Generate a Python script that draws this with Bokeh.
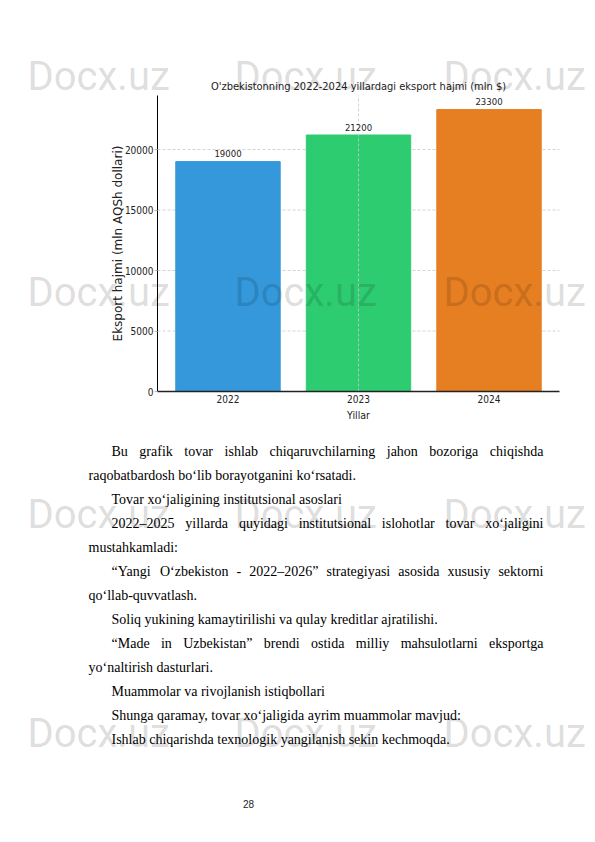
from bokeh.plotting import figure
from bokeh.models import Range1d, FixedTicker, LinearAxis, ColumnDataSource
from bokeh.embed import file_html
from bokeh.resources import INLINE
from bokeh.core.properties import value

# ---------------- data ----------------
years = [2022, 2023, 2024]
year_labels = ["2022", "2023", "2024"]
exports = [19000, 21200, 23300]
export_labels = ["19000", "21200", "23300"]
bar_colors = ["#3498db", "#2ecc71", "#e67e22"]
y_ticks = [0, 5000, 10000, 15000, 20000]
chart_title = "O'zbekistonning 2022-2024 yillardagi eksport hajmi (mln $)"
x_title = "Yillar"
y_title = "Eksport hajmi (mln AQSh dollari)"

body_lines = [
    "Bu grafik tovar ishlab chiqaruvchilarning jahon bozoriga chiqishda",
    "raqobatbardosh bo\u2018lib borayotganini ko\u2018rsatadi.",
    "Tovar xo\u2018jaligining institutsional asoslari",
    "2022\u20132025 yillarda quyidagi institutsional islohotlar tovar xo\u2018jaligini",
    "mustahkamladi:",
    "\u201cYangi O\u2018zbekiston - 2022\u20132026\u201d strategiyasi asosida xususiy sektorni",
    "qo\u2018llab-quvvatlash.",
    "Soliq yukining kamaytirilishi va qulay kreditlar ajratilishi.",
    "\u201cMade in Uzbekistan\u201d brendi ostida milliy mahsulotlarni eksportga",
    "yo\u2018naltirish dasturlari.",
    "Muammolar va rivojlanish istiqbollari",
    "Shunga qaramay, tovar xo\u2018jaligida ayrim muammolar mavjud:",
    "Ishlab chiqarishda texnologik yangilanish sekin kechmoqda.",
]
line_indented = [True, False, True, True, False, True, False, True, True, False, True, True, True]
line_justified = [True, False, False, True, False, True, False, False, True, False, False, False, False]
page_number = "28"
watermark = "Docx.uz"

# ---------------- page and chart-area geometry ----------------
W, H = 595, 842
FL, FR, FT, FB = 157, 559, 95, 391        # chart plot area on the page (px)
X_LO, X_HI = 2021.46, 2024.54             # chart x range (years)
Y_LO, Y_HI = 0, 24465                     # chart y range (mln $)

ppx = (FR - FL) / (X_HI - X_LO)
vpp = (Y_HI - Y_LO) / (FB - FT)

p = figure(width=W, height=H, x_range=Range1d(0, W), y_range=Range1d(H, 0),
           x_axis_type=None, y_axis_type=None, min_border=0, title=None,
           output_backend="svg", toolbar_location=None)
p.outline_line_color = None
p.background_fill_color = "white"
p.border_fill_color = "white"

# chart scales mapped onto the chart area of the page
p.extra_x_ranges = {"yr": Range1d(X_LO - FL / ppx, X_HI + (W - FR) / ppx)}
p.extra_y_ranges = {"val": Range1d(Y_LO - (H - FB) * vpp, Y_HI + FT * vpp)}
C = dict(x_range_name="yr", y_range_name="val")

# horizontal grid (behind the bars)
gy = [v for v in y_ticks if v > 0]
p.segment(x0=[X_LO] * len(gy), x1=[X_HI] * len(gy), y0=gy, y1=gy, line_color="#c8c8c8",
          line_dash="3 2", line_width=0.8, **C)

src = ColumnDataSource(dict(x=years, top=exports, color=bar_colors, lab=export_labels))
p.vbar(x="x", top="top", width=0.8, color="color", source=src, **C)

# vertical dashed line at the middle year (drawn over the bar)
p.segment(x0=[years[1]], x1=[years[1]], y0=[Y_LO], y1=[Y_HI], line_color="#c8c8c8",
          line_dash="3 2", line_width=0.8, **C)

cond = value("DejaVu Sans Condensed")
p.text(x="x", y="top", text="lab", source=src, y_offset=-8, text_align="center",
       text_baseline="alphabetic", text_font=cond, text_font_size="9.5px", text_color="#222222", **C)

# title
p.text(x=[(X_LO + X_HI) / 2], y=[Y_HI], text=[chart_title], y_offset=-9, text_align="center",
       text_baseline="alphabetic", text_font=cond, text_font_size="11px", text_color="#222222", **C)

# axes
xax = LinearAxis(fixed_location=Y_LO, bounds=(X_LO, X_HI), ticker=FixedTicker(ticks=years), **C)
xax.major_label_overrides = dict(zip(years, year_labels))
yax = LinearAxis(fixed_location=X_LO, bounds=(Y_LO, Y_HI), ticker=FixedTicker(ticks=y_ticks), **C)
for ax in (xax, yax):
    ax.minor_tick_line_color = None
    ax.major_label_text_font = "DejaVu Sans Condensed"
    ax.major_label_text_font_size = "10px"
    ax.major_label_text_color = "#222222"
    ax.axis_label_text_font_style = "normal"
    ax.axis_label_text_color = "#222222"

xax.axis_label = x_title
xax.axis_label_text_font = "DejaVu Sans Condensed"
xax.axis_label_text_font_size = "10.5px"
xax.axis_label_standoff = 3
xax.axis_line_color = "#222222"
xax.axis_line_width = 1.6
xax.major_tick_line_color = None
xax.major_tick_out = 0
xax.major_tick_in = 0
xax.major_label_standoff = 3

yax.axis_label = y_title
yax.axis_label_text_font = "DejaVu Sans"
yax.axis_label_text_font_size = "12px"
yax.axis_label_standoff = -3
yax.axis_line_color = "black"
yax.axis_line_width = 1
yax.major_tick_out = 3
yax.major_tick_in = 0
yax.major_tick_line_color = "#bbbbbb"
yax.major_label_standoff = 1

p.add_layout(xax, "below")
p.add_layout(yax, "left")

# ---------------- body text (justified like the page) ----------------
CW = {' ': 250, 'a': 444, 'b': 500, 'c': 444, 'd': 500, 'e': 444, 'f': 333, 'g': 500, 'h': 500,
      'i': 278, 'j': 278, 'k': 500, 'l': 278, 'm': 778, 'n': 500, 'o': 500, 'p': 500, 'q': 500,
      'r': 333, 's': 389, 't': 278, 'u': 500, 'v': 500, 'w': 722, 'x': 500, 'y': 500, 'z': 444,
      'A': 722, 'B': 667, 'C': 667, 'D': 722, 'E': 611, 'F': 556, 'G': 722, 'H': 722, 'I': 333,
      'J': 389, 'K': 722, 'L': 611, 'M': 889, 'N': 722, 'O': 722, 'P': 556, 'Q': 722, 'R': 667,
      'S': 556, 'T': 611, 'U': 722, 'V': 722, 'W': 944, 'X': 722, 'Y': 722, 'Z': 611,
      '.': 250, ',': 250, ':': 278, '-': 333, '\u2013': 500, '\u2018': 333, '\u201c': 444, '\u201d': 444}
FS = 14.0

def tw(s):
    return sum(CW.get(c, 500) for c in s) * FS / 1000.0

text_left, text_indent, text_right = 88, 23, 543
base0, step = 450.5, 24
bx, by, bt = [], [], []
for i, line in enumerate(body_lines):
    y = base0 + i * step
    x0 = text_left + (text_indent if line_indented[i] else 0)
    if line_justified[i]:
        words = line.split(" ")
        total = sum(tw(w) for w in words)
        gap = (text_right - x0 - total) / (len(words) - 1)
        x = x0
        for w in words:
            bx.append(x); by.append(y); bt.append(w)
            x += tw(w) + gap
    else:
        bx.append(x0); by.append(y); bt.append(line)

p.text(x=bx, y=by, text=bt, text_font=value("Liberation Serif"), text_font_size="14px",
       text_baseline="alphabetic", text_align="left", text_color="black")
p.text(x=[248], y=[803], text=[page_number], text_font=value("Liberation Sans"), text_font_size="10px",
       text_baseline="alphabetic", text_align="center", text_color="#222222")

# ---------------- watermark ----------------
wm_cols = [27, 234, 443]
wm_rows = [76, 292, 514, 733]
wmx, wmy, wmt = [], [], []
for r in wm_rows:
    for c in wm_cols:
        wmx.append(c); wmy.append(r); wmt.append(watermark)
p.text(x=wmx, y=wmy, text=wmt, text_font=value("Roboto"), text_font_size="40px",
       text_baseline="alphabetic", text_align="left", text_color="black", text_alpha=0.15)

open("out.html", "w").write(file_html(p, INLINE))
